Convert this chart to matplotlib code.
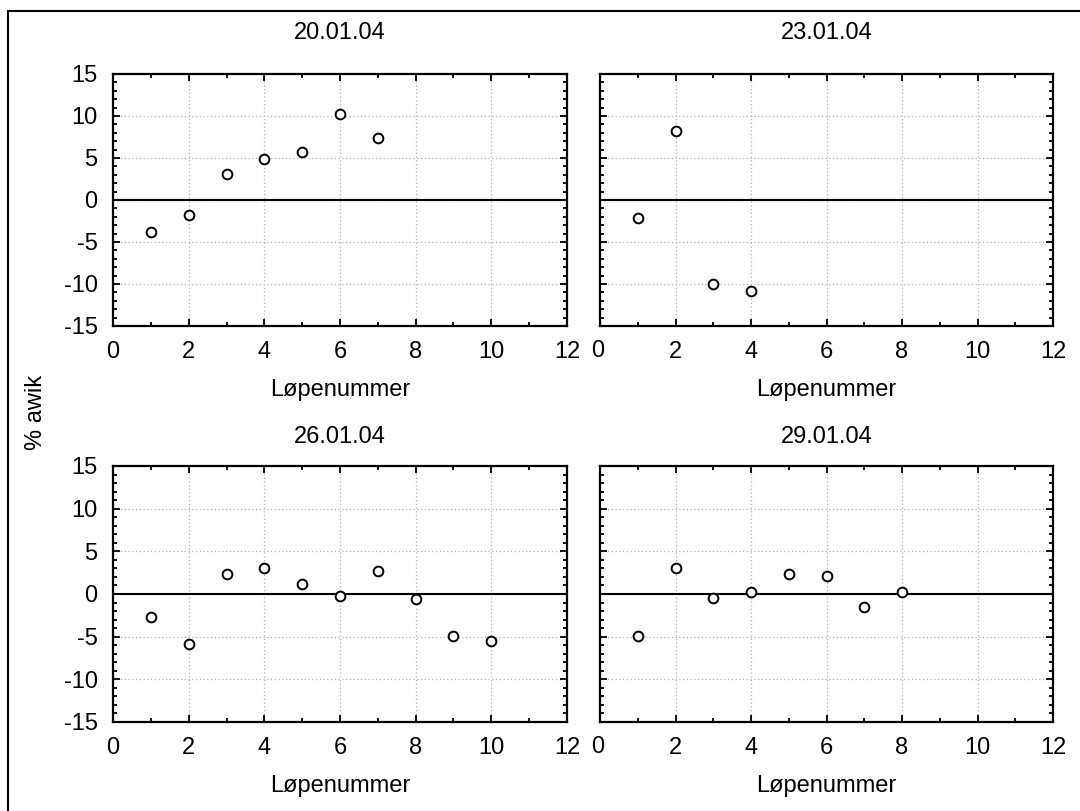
import matplotlib
matplotlib.use("Agg")
import matplotlib.pyplot as plt
from matplotlib.patches import Rectangle
from matplotlib.ticker import MultipleLocator

plt.rcParams["font.family"] = ["Liberation Sans", "DejaVu Sans"]
plt.rcParams["font.size"] = 17
plt.rcParams["axes.unicode_minus"] = False

# Data
titles = ["20.01.04", "23.01.04", "26.01.04", "29.01.04"]
x_20 = [1, 2, 3, 4, 5, 6, 7]
y_20 = [-3.8, -1.8, 3.1, 4.9, 5.7, 10.2, 7.4]
x_23 = [1, 2, 3, 4]
y_23 = [-2.1, 8.2, -10.0, -10.8]
x_26 = [1, 2, 3, 4, 5, 6, 7, 8, 9, 10]
y_26 = [-2.7, -5.9, 2.4, 3.1, 1.2, -0.2, 2.7, -0.6, -4.9, -5.5]
x_29 = [1, 2, 3, 4, 5, 6, 7, 8]
y_29 = [-4.9, 3.0, -0.5, 0.2, 2.3, 2.1, -1.5, 0.2]

series = [(x_20, y_20), (x_23, y_23), (x_26, y_26), (x_29, y_29)]

W, H = 1080, 811
fig = plt.figure(figsize=(W / 100, H / 100), dpi=100)

# outer frame (runs off the right and bottom edge like the screenshot)
fig.patches.append(Rectangle((8 / W, -0.05), 1.1, 1 - 11 / H + 0.05,
                             transform=fig.transFigure, fill=False,
                             edgecolor="black", linewidth=1.5))

cols = [(113, 567), (600, 1053)]
rows = [(74, 326), (466, 722)]
title_y = [33, 437]

for k, (xs, ys) in enumerate(series):
    r, c = divmod(k, 2)
    x0, x1 = cols[c]
    top, bot = rows[r]
    ax = fig.add_axes((x0 / W, 1 - bot / H, (x1 - x0) / W, (bot - top) / H))
    ax.set_xlim(0, 12)
    ax.set_ylim(-15, 15)
    ax.xaxis.set_major_locator(MultipleLocator(2))
    ax.xaxis.set_minor_locator(MultipleLocator(1))
    ax.yaxis.set_major_locator(MultipleLocator(5))
    ax.yaxis.set_minor_locator(MultipleLocator(1))
    ax.tick_params(which="both", direction="in", top=True, right=True,
                   width=1.3, colors="black")
    ax.tick_params(which="major", length=5, pad=11)
    ax.tick_params(which="minor", length=3)
    if c == 1:
        ax.tick_params(axis="y", labelleft=False)
        ax.xaxis.set_major_formatter(plt.FuncFormatter(lambda v, p: "" if v == 0 else f"{v:g}"))
    ax.grid(True, which="major", color="#b0b0b0", linestyle=(0, (1, 2)), linewidth=0.9)
    for s in ax.spines.values():
        s.set_linewidth(1.6)
    ax.axhline(0, color="black", linewidth=1.5, zorder=2)
    ax.plot(xs, ys, linestyle="none", marker="o", markersize=7,
            markerfacecolor="white", markeredgecolor="black",
            markeredgewidth=1.4, zorder=3, clip_on=False)
    fig.text((x0 + x1) / 2 / W, 1 - title_y[r] / H, titles[k],
             ha="center", va="center")
    ax.set_xlabel("Løpenummer", labelpad=11)

# the 0 of the right panels sits between the two panels
for top, bot in rows:
    fig.text(598 / W, 1 - (bot + 25) / H, "0", ha="center", va="center")

fig.text(36 / W, 1 - 412 / H, "% awik", rotation=90, ha="center", va="center")

fig.savefig("out.png", dpi=100)
